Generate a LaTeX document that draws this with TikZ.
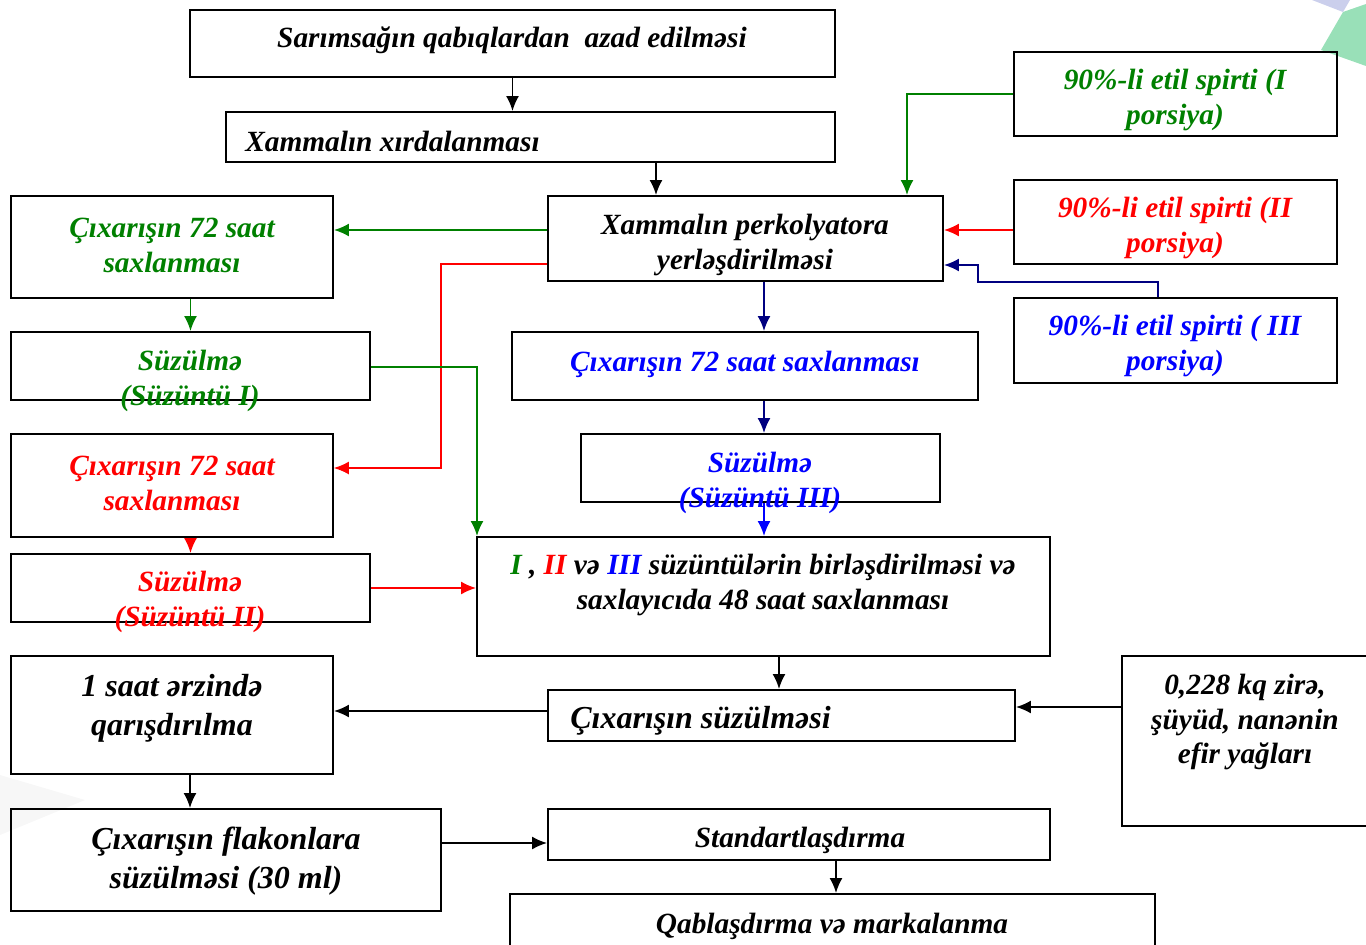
\documentclass[tikz,border=0pt]{standalone}
\usepackage{fontspec}
\setmainfont{Liberation Serif}
\usepackage{tikz}
\usetikzlibrary{shapes,arrows,arrows.meta,positioning}
\definecolor{gr}{RGB}{0,128,0}
\definecolor{rd}{RGB}{255,0,0}
\definecolor{bl}{RGB}{0,0,255}
\definecolor{nv}{RGB}{0,0,128}
\tikzstyle{process} = [rectangle, draw=black, line width=1.1pt, inner sep=0pt]
\tikzstyle{txt} = [align=center, inner sep=0pt, font=\fontsize{16.7}{19.9}\selectfont\bfseries\itshape]
\tikzstyle{bigtxt} = [align=center, inner sep=0pt, font=\fontsize{18.2}{22}\selectfont\bfseries\itshape]
\tikzstyle{arrow} = [->,>={Latex[length=3mm,width=2.6mm]}, line width=1.1pt]

\begin{document}
\begin{tikzpicture}[x=0.02cm, y=-0.02cm]
  \useasboundingbox (0,0) rectangle (1366,944);
  % background corners
  \fill[green!40!teal!40] (1321,50) -- (1343,12) -- (1366,4) -- (1366,66) -- cycle;
  \fill[cyan!30!blue!20] (1312,0) -- (1350,0) -- (1343,12) -- cycle;
  \fill[black!3] (0,775) -- (85,800) -- (0,835) -- cycle;
  % boxes
  \node[process, minimum width=12.9cm, minimum height=1.34cm](top) at (512.5,43.5){};
  \node[process, minimum width=12.18cm, minimum height=1cm](xird) at (530.5,137){};
  \node[process, minimum width=7.9cm, minimum height=1.7cm](perk) at (745.5,238.5){};
  \node[process, minimum width=6.44cm, minimum height=2.04cm](g72) at (172,247){};
  \node[process, minimum width=7.18cm, minimum height=1.36cm](gsuz) at (190.5,366){};
  \node[process, minimum width=6.44cm, minimum height=2.06cm](r72) at (172,485.5){};
  \node[process, minimum width=7.18cm, minimum height=1.36cm](rsuz) at (190.5,588){};
  \node[process, minimum width=6.44cm, minimum height=2.36cm](qar) at (172,715){};
  \node[process, minimum width=8.6cm, minimum height=2.04cm](flak) at (226,860){};
  \node[process, minimum width=6.46cm, minimum height=1.68cm](sp1) at (1175.5,94){};
  \node[process, minimum width=6.46cm, minimum height=1.68cm](sp2) at (1175.5,222){};
  \node[process, minimum width=6.46cm, minimum height=1.7cm](sp3) at (1175.5,340.5){};
  \node[process, minimum width=9.32cm, minimum height=1.36cm](b72) at (745,366){};
  \node[process, minimum width=7.18cm, minimum height=1.36cm](bsuz) at (760.5,468){};
  \node[process, minimum width=11.46cm, minimum height=2.38cm](birl) at (763.5,596.5){};
  \node[process, minimum width=9.34cm, minimum height=1.02cm](cxsuz) at (781.5,715.5){};
  \node[process, minimum width=5.36cm, minimum height=3.4cm](yag) at (1256,741){};
  \node[process, minimum width=10.04cm, minimum height=1.02cm](std) at (799,834.5){};
  \node[process, minimum width=12.9cm, minimum height=1.52cm](qab) at (832.5,932){};
  % connectors
  \draw[arrow](top.south) -- (top.south |- xird.north);
  \draw[arrow](xird.south -| 656,0) -- (perk.north -| 656,0);
  \draw[arrow, gr](perk.west |- 0,230) -- (g72.east |- 0,230);
  \draw[arrow, gr](g72.south -| gsuz.north) -- (gsuz.north);
  \draw[arrow, rd, line width=0.7pt](perk.west |- 0,264) -| (441,468) -- (r72.east |- 0,468);
  \draw[arrow, gr](gsuz.east |- 0,367) -| (birl.north -| 477,0);
  \draw[arrow, rd](r72.south -| rsuz.north) -- (rsuz.north);
  \draw[arrow, rd](rsuz.east) -- (birl.west |- rsuz.east);
  \draw[arrow, gr](sp1.west) -| (perk.north -| 907,0);
  \draw[arrow, rd](sp2.west |- 0,230) -- (perk.east |- 0,230);
  \draw[arrow, nv](sp3.north -| 1158,0) |- (978,282) |- (perk.east |- 0,265);
  \draw[arrow, nv](perk.south -| 764,0) -- (b72.north -| 764,0);
  \draw[arrow, nv](b72.south -| 764,0) -- (bsuz.north -| 764,0);
  \draw[arrow, bl](bsuz.south -| 764,0) -- (birl.north -| 764,0);
  \draw[arrow](birl.south -| 779,0) -- (cxsuz.north -| 779,0);
  \draw[arrow](cxsuz.west |- 0,711) -- (qar.east |- 0,711);
  \draw[arrow](yag.west |- 0,707) -- (cxsuz.east |- 0,707);
  \draw[arrow](qar.south -| 190,0) -- (flak.north -| 190,0);
  \draw[arrow](flak.east |- 0,843) -- (std.west |- 0,843);
  \draw[arrow](std.south -| 836,0) -- (qab.north -| 836,0);
  % texts
  \node[txt](toptx) at (512,40){Sarımsağın qabıqlardan~~azad edilməsi};
  \node[txt, anchor=west](xirdtx) at (245,141){Xammalın xırdalanması};
  \node[txt](perktx) at (745,245){Xammalın perkolyatora\\yerləşdirilməsi};
  \node[txt, gr](g72tx) at (172,245){Çıxarışın 72 saat\\saxlanması};
  \node[txt, gr](gsuztx) at (190,381){Süzülmə\\(Süzüntü I)};
  \node[txt, rd](r72tx) at (172,483){Çıxarışın 72 saat\\saxlanması};
  \node[txt, rd](rsuztx) at (190,602){Süzülmə\\(Süzüntü II)};
  \node[bigtxt](qartx) at (172,708){1 saat ərzində\\qarışdırılma};
  \node[bigtxt](flaktx) at (226,861){Çıxarışın flakonlara\\süzülməsi (30 ml)};
  \node[txt, gr](sp1tx) at (1175,100){90\%-li etil spirti (I\\porsiya)};
  \node[txt, rd](sp2tx) at (1175,228){90\%-li etil spirti (II\\porsiya)};
  \node[txt, bl](sp3tx) at (1175,346){90\%-li etil spirti ( III\\porsiya)};
  \node[txt, bl](b72tx) at (745,364){Çıxarışın 72 saat saxlanması};
  \node[txt, bl](bsuztx) at (760,483){Süzülmə\\(Süzüntü III)};
  \node[txt](birltx) at (763,585){{\color{gr}I} , {\color{rd}II} və {\color{bl}III} süzüntülərin birləşdirilməsi və\\saxlayıcıda 48 saat saxlanması};
  \node[bigtxt, anchor=west](cxsuztx) at (570,721){Çıxarışın süzülməsi};
  \node[txt](yagtx) at (1245,722){0,228 kq zirə,\\şüyüd, nanənin\\efir yağları};
  \node[txt](stdtx) at (800,840){Standartlaşdırma};
  \node[txt](qabtx) at (832,926){Qablaşdırma və markalanma};
\end{tikzpicture}
\end{document}
